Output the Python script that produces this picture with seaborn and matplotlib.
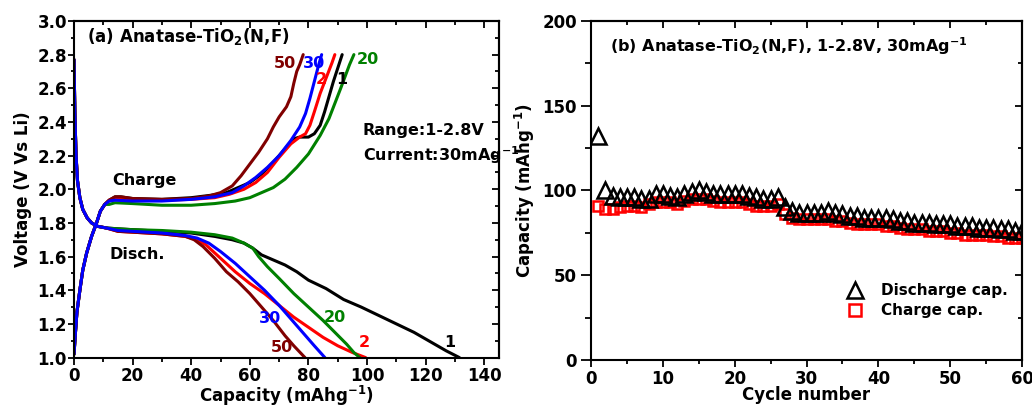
import numpy as np
import pandas as pd
import matplotlib
matplotlib.use("Agg")
import matplotlib.pyplot as plt
from matplotlib.lines import Line2D
from matplotlib.ticker import MultipleLocator, FormatStrFormatter
import seaborn as sns

# ---------------- data: panel (a) voltage profiles ----------------
start_dis_x = [0, 0.3, 0.7, 1.2, 2, 3, 4.5, 6, 8, 11]
start_dis_y = [2.77, 2.45, 2.2, 2.05, 1.95, 1.88, 1.83, 1.80, 1.78, 1.77]

dis1_x = start_dis_x + [15, 20, 30, 40, 48, 54, 58, 61, 64, 68, 72, 76, 80, 86, 92, 98, 104, 110, 116, 122, 127, 131.5]
dis1_y = start_dis_y + [1.765, 1.76, 1.75, 1.74, 1.72, 1.70, 1.68, 1.65, 1.61, 1.58, 1.55, 1.51, 1.46, 1.41, 1.345, 1.30, 1.25, 1.20, 1.15, 1.09, 1.04, 1.0]

dis2_x = start_dis_x + [15, 20, 30, 38, 42, 45, 50, 55, 60, 65, 70, 75, 80, 85, 90, 95, 99.5]
dis2_y = start_dis_y + [1.75, 1.745, 1.735, 1.72, 1.70, 1.67, 1.59, 1.51, 1.44, 1.38, 1.31, 1.24, 1.18, 1.12, 1.07, 1.03, 1.0]

dis20_x = start_dis_x + [15, 20, 30, 40, 48, 54, 58, 61, 63, 66, 70, 75, 80, 85, 89, 93, 95.5, 97.5]
dis20_y = start_dis_y + [1.765, 1.76, 1.755, 1.745, 1.73, 1.71, 1.68, 1.65, 1.60, 1.54, 1.47, 1.38, 1.30, 1.22, 1.15, 1.08, 1.03, 1.0]

dis30_x = start_dis_x + [15, 20, 30, 38, 42, 46, 50, 55, 60, 65, 70, 74, 78, 82, 85.6]
dis30_y = start_dis_y + [1.755, 1.75, 1.74, 1.725, 1.71, 1.68, 1.63, 1.56, 1.48, 1.40, 1.31, 1.23, 1.15, 1.07, 1.0]

dis50_x = start_dis_x + [15, 20, 30, 38, 41, 44, 48, 52, 56, 60, 64, 68, 72, 75, 78.8]
dis50_y = start_dis_y + [1.75, 1.745, 1.735, 1.72, 1.70, 1.66, 1.59, 1.51, 1.45, 1.38, 1.30, 1.22, 1.13, 1.07, 1.0]

start_chg_x = [0, 0.5, 1, 2, 3, 4.3, 6, 7.7, 9, 10.5]
start_chg_y = [1.02, 1.15, 1.27, 1.40, 1.52, 1.62, 1.72, 1.80, 1.87, 1.91]

chg1_x = start_chg_x + [12, 14, 16, 20, 30, 40, 47, 52, 56, 60, 64, 68, 72, 75, 77, 80, 82, 84, 85.5, 87, 88.5, 90, 91.5]
chg1_y = start_chg_y + [1.935, 1.955, 1.955, 1.945, 1.94, 1.95, 1.965, 1.98, 2.01, 2.04, 2.09, 2.16, 2.24, 2.30, 2.31, 2.31, 2.33, 2.38, 2.46, 2.55, 2.64, 2.72, 2.80]

chg2_x = start_chg_x + [12, 14, 20, 30, 40, 48, 53, 58, 62, 66, 70, 74, 77, 79, 80.5, 82, 84, 86, 88, 89]
chg2_y = start_chg_y + [1.935, 1.95, 1.94, 1.935, 1.94, 1.95, 1.97, 2.00, 2.04, 2.10, 2.19, 2.27, 2.31, 2.33, 2.38, 2.46, 2.57, 2.66, 2.75, 2.80]

chg20_x = start_chg_x + [12, 14, 20, 30, 40, 48, 55, 60, 64, 68, 72, 76, 80, 84, 87, 89, 91, 92.5, 94, 95.5]
chg20_y = start_chg_y + [1.91, 1.92, 1.915, 1.905, 1.905, 1.915, 1.93, 1.95, 1.98, 2.01, 2.06, 2.13, 2.21, 2.32, 2.42, 2.51, 2.60, 2.67, 2.74, 2.80]

chg30_x = start_chg_x + [12, 14, 20, 30, 40, 48, 54, 58, 62, 66, 70, 74, 77, 79, 80.5, 82, 83.5, 84.5]
chg30_y = start_chg_y + [1.93, 1.935, 1.93, 1.93, 1.94, 1.955, 1.98, 2.02, 2.07, 2.13, 2.20, 2.29, 2.37, 2.45, 2.54, 2.64, 2.74, 2.80]

chg50_x = start_chg_x + [12, 14, 16, 20, 30, 40, 46, 50, 54, 57, 60, 63, 66, 68, 70, 72.5, 74, 75, 76, 77, 78.2]
chg50_y = start_chg_y + [1.935, 1.955, 1.955, 1.945, 1.94, 1.945, 1.96, 1.98, 2.02, 2.08, 2.15, 2.22, 2.30, 2.37, 2.43, 2.49, 2.55, 2.63, 2.70, 2.74, 2.80]

cycle_labels = ["1", "2", "20", "30", "50"]
cycle_colors = ["#000000", "#ff0000", "#008000", "#0000ff", "#800000"]

# ---------------- data: panel (b) cycling ----------------
cycles = list(range(1, 61))
discharge_cap = [132, 100, 97, 96, 96, 96, 95, 95, 98, 98,
                 97, 96, 98, 99, 100, 99, 98, 98, 98, 98,
                 98, 97, 96, 95, 95, 96, 90, 88, 87, 87,
                 87, 87, 88, 87, 86, 85, 85, 84, 84, 84,
                 84, 83, 82, 82, 81, 81, 81, 80, 80, 80,
                 79, 79, 79, 78, 78, 78, 77, 77, 76, 76]
charge_cap = [91, 89, 89, 90, 91, 91, 90, 92, 93, 93,
              93, 92, 94, 95, 95, 95, 94, 93, 93, 93,
              93, 92, 91, 91, 91, 92, 86, 84, 83, 83,
              83, 83, 83, 82, 82, 81, 80, 80, 80, 80,
              79, 79, 78, 77, 77, 77, 76, 76, 76, 75,
              75, 74, 74, 74, 74, 73, 73, 72, 72, 72]

# ---------------- style ----------------
sns.set_theme(style="ticks")
plt.rcParams["font.family"] = ["DejaVu Sans"]
plt.rcParams["font.weight"] = "bold"
plt.rcParams["axes.labelweight"] = "bold"
plt.rcParams["mathtext.fontset"] = "dejavusans"
plt.rcParams["mathtext.default"] = "bf"
for k in ["text.color", "axes.labelcolor", "xtick.color", "ytick.color", "axes.edgecolor"]:
    plt.rcParams[k] = "black"

fig = plt.figure(figsize=(10.32, 4.11), dpi=100)
axA = fig.add_axes([0.0717, 0.130, 0.4118, 0.819])
axB = fig.add_axes([0.5727, 0.124, 0.4177, 0.825])

def style_axis(ax, xmaj, xmin, ymaj, ymin, ylen, ypad):
    for s in ax.spines.values():
        s.set_linewidth(1.5)
        s.set_color("black")
    ax.xaxis.set_major_locator(MultipleLocator(xmaj))
    ax.xaxis.set_minor_locator(MultipleLocator(xmin))
    ax.yaxis.set_major_locator(MultipleLocator(ymaj))
    ax.yaxis.set_minor_locator(MultipleLocator(ymin))
    # left / bottom: outward ticks with labels
    ax.tick_params(which="both", direction="out", top=False, right=False, width=1.3,
                   labelsize=12, colors="black")
    ax.tick_params(axis="x", which="major", length=5, pad=2)
    ax.tick_params(axis="x", which="minor", length=3)
    ax.tick_params(axis="y", which="major", length=ylen, pad=ypad)
    ax.tick_params(axis="y", which="minor", length=ylen * 0.6)
    for lab in ax.get_xticklabels() + ax.get_yticklabels():
        lab.set_fontweight("bold")
    # top / right: inward mirror ticks, no labels
    top = ax.secondary_xaxis("top")
    top.xaxis.set_major_locator(MultipleLocator(xmaj))
    top.xaxis.set_minor_locator(MultipleLocator(xmin))
    top.tick_params(which="both", direction="in", labeltop=False, width=1.3)
    top.tick_params(which="major", length=5)
    top.tick_params(which="minor", length=3)
    right = ax.secondary_yaxis("right")
    right.yaxis.set_major_locator(MultipleLocator(ymaj))
    right.yaxis.set_minor_locator(MultipleLocator(ymin))
    right.tick_params(which="both", direction="in", labelright=False, width=1.3)
    right.tick_params(which="major", length=5)
    right.tick_params(which="minor", length=3)
    for sec in (top, right):
        for s in sec.spines.values():
            s.set_linewidth(1.5)

# ---------------- panel (a) ----------------
curves = [
    (dis1_x, dis1_y, chg1_x, chg1_y),
    (dis2_x, dis2_y, chg2_x, chg2_y),
    (dis20_x, dis20_y, chg20_x, chg20_y),
    (dis50_x, dis50_y, chg50_x, chg50_y),
    (dis30_x, dis30_y, chg30_x, chg30_y),
]
order_colors = ["#000000", "#ff0000", "#008000", "#800000", "#0000ff"]
for (dx, dy, cx, cy), col in zip(curves, order_colors):
    sns.lineplot(x=dx, y=dy, ax=axA, color=col, lw=2.2, sort=False, estimator=None)
    sns.lineplot(x=cx, y=cy, ax=axA, color=col, lw=2.2, sort=False, estimator=None)

axA.set_xlim(0, 145)
axA.set_ylim(1.0, 3.0)
axA.set_xlabel("Capacity (mAhg$^{-1}$)", fontsize=12, fontweight="bold", labelpad=-1)
axA.set_ylabel("Voltage (V Vs Li)", fontsize=12, fontweight="bold", labelpad=4)
style_axis(axA, 20, 10, 0.2, 0.1, ylen=4, ypad=1)
axA.yaxis.set_major_formatter(FormatStrFormatter("%.1f"))

fs_lab = 11.5
axA.text(4.5, 2.91, "(a) Anatase-TiO$_2$(N,F)", fontsize=12, fontweight="bold", va="center", ha="left")
axA.text(98.6, 2.35, "Range:1-2.8V", fontsize=11.5, fontweight="bold", va="center", ha="left")
axA.text(98.6, 2.20, "Current:30mAg$^{-1}$", fontsize=11.5, fontweight="bold", va="center", ha="left")
axA.text(23.9, 2.05, "Charge", fontsize=11.5, fontweight="bold", va="center", ha="center")
axA.text(21.6, 1.61, "Disch.", fontsize=11.5, fontweight="bold", va="center", ha="center")

chg_lab_pos = {"50": (72.0, 2.75), "30": (81.8, 2.75), "2": (84.4, 2.65), "1": (91.2, 2.65), "20": (100.3, 2.77)}
dis_lab_pos = {"30": (67.0, 1.23), "50": (70.8, 1.06), "20": (89.0, 1.24), "2": (99.2, 1.09), "1": (128.2, 1.09)}
for lab, col in zip(cycle_labels, cycle_colors):
    x, y = chg_lab_pos[lab]
    axA.text(x, y, lab, color=col, fontsize=fs_lab, fontweight="bold", ha="center", va="center")
    x, y = dis_lab_pos[lab]
    axA.text(x, y, lab, color=col, fontsize=fs_lab, fontweight="bold", ha="center", va="center")

# ---------------- panel (b) ----------------
sns.lineplot(x=cycles, y=charge_cap, ax=axB, marker="s", linestyle="", markersize=7.5,
             markerfacecolor="none", markeredgecolor="#ff0000", markeredgewidth=1.8, color="#ff0000")
sns.lineplot(x=cycles, y=discharge_cap, ax=axB, marker="^", linestyle="", markersize=11,
             markerfacecolor="none", markeredgecolor="black", markeredgewidth=1.8, color="black")

axB.set_xlim(0, 60)
axB.set_ylim(0, 200)
axB.set_xlabel("Cycle number", fontsize=12, fontweight="bold", labelpad=-1)
axB.set_ylabel("Capacity (mAhg$^{-1}$)", fontsize=12, fontweight="bold", labelpad=4)
style_axis(axB, 10, 5, 50, 25, ylen=7, ypad=3)

axB.text(0.045, 0.925, "(b) Anatase-TiO$_2$(N,F), 1-2.8V, 30mAg$^{-1}$", transform=axB.transAxes,
         fontsize=11.5, fontweight="bold", va="center", ha="left")

handles = [
    Line2D([], [], marker="^", linestyle="", markersize=12, markerfacecolor="none",
           markeredgecolor="black", markeredgewidth=1.8),
    Line2D([], [], marker="s", linestyle="", markersize=8, markerfacecolor="none",
           markeredgecolor="#ff0000", markeredgewidth=1.8),
]
axB.legend(handles, ["Discharge cap.", "Charge cap."], loc="center left",
           bbox_to_anchor=(0.56, 0.175), frameon=False,
           handlelength=1.2, handletextpad=1.1, labelspacing=0.35,
           prop={"weight": "bold", "size": 11})

fig.savefig("out.png", dpi=100)
